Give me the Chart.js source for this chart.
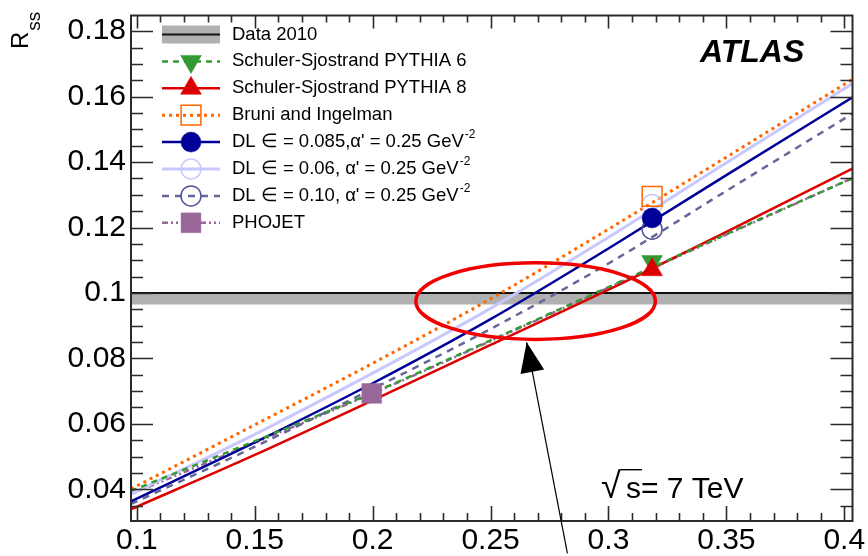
<!DOCTYPE html>
<html>
<head>
<meta charset="utf-8">
<title>Rss vs cut</title>
<script src="https://cdn.jsdelivr.net/npm/chart.js@4.4.1/dist/chart.umd.min.js"></script>
<style>
  html, body { margin: 0; padding: 0; background: #ffffff; }
  canvas { display: block; }
</style>
</head>
<body>
<canvas id="rss" width="868" height="556"></canvas>
<script>
// model curves, sampled along x (first/last points sit on the frame edges)
const xs       = [0.0975, 0.15, 0.2, 0.25, 0.3, 0.35, 0.4035];
const pythia6  = [0.0395, 0.0547, 0.0695, 0.0855, 0.1018, 0.1180, 0.1351];
const pythia8  = [0.0339, 0.0505, 0.0672, 0.0841, 0.1010, 0.1187, 0.1380];
const bruni    = [0.0401, 0.0597, 0.0785, 0.0982, 0.1195, 0.1415, 0.1653];
const dl085    = [0.0363, 0.0543, 0.0724, 0.0920, 0.1136, 0.1360, 0.1598];
const dl060    = [0.0385, 0.0568, 0.0755, 0.0953, 0.1170, 0.1398, 0.1640];
const dl100    = [0.0355, 0.0530, 0.0707, 0.0890, 0.1090, 0.1312, 0.1548];
const phojet   = [0.0385, 0.0542, 0.0693, 0.0853, 0.1016, 0.1178, 0.1351];

// single point predictions, same order as the curves
const markerX = [0.3185, 0.3185, 0.3185, 0.3185, 0.3185, 0.3185, 0.1996];
const markerY = [0.1096, 0.1071, 0.1295, 0.1229, 0.1270, 0.1195, 0.0693];

// measurement and its band
const dataValue = 0.1;
const dataLow = 0.0965;

const xTicks = [0.1, 0.15, 0.2, 0.25, 0.3, 0.35, 0.4];
const yTicks = [0.04, 0.06, 0.08, 0.1, 0.12, 0.14, 0.16, 0.18];

const names = [
  'Data 2010',
  'Schuler-Sjostrand PYTHIA 6',
  'Schuler-Sjostrand PYTHIA 8',
  'Bruni and Ingelman',
  "DL \u2208 = 0.085,\u03b1' = 0.25 GeV^-2",
  "DL \u2208 = 0.06, \u03b1' = 0.25 GeV^-2",
  "DL \u2208 = 0.10, \u03b1' = 0.25 GeV^-2",
  'PHOJET'
];
const curves = [pythia6, pythia8, bruni, dl085, dl060, dl100, phojet];

const FONT = "'Liberation Sans', Arial, Helvetica, sans-serif";

// layer: lower numbers end up on top
const looks = [
  {color: '#339933', width: 2.5, dash: [6, 5], point: 'triangle', rot: 180, r: 12, fill: true, layer: 1},
  {color: '#dd0000', width: 2.5, dash: [], point: 'triangle', rot: 0, r: 12, fill: true, layer: 0},
  {color: '#ff6600', width: 3, dash: [3, 4], point: 'rect', rot: 0, r: 14, fill: false, layer: 1},
  {color: '#000099', width: 2.5, dash: [], point: 'circle', rot: 0, r: 10, fill: true, layer: 0},
  {color: '#c8c8ff', width: 3, dash: [], point: 'circle', rot: 0, r: 10, fill: false, layer: 1},
  {color: '#666699', width: 2.5, dash: [7, 6], point: 'circle', rot: 0, r: 10, fill: false, mcolor: '#555599', layer: 0},
  {color: '#996699', width: 2.5, dash: [6, 3, 2, 3, 2, 3], point: 'rect', rot: 0, r: 14, fill: true, layer: 0}
];

const datasets = [];
curves.forEach((c, i) => {
  const L = looks[i];
  datasets.push({
    data: [{x: markerX[i], y: markerY[i]}],
    order: L.layer,
    showLine: false,
    pointStyle: L.point,
    rotation: L.rot,
    pointRadius: L.r,
    pointBackgroundColor: L.fill ? L.color : 'rgba(0,0,0,0)',
    pointBorderColor: L.mcolor || L.color,
    pointBorderWidth: L.fill ? 0.5 : 1.5
  });
});
curves.forEach((c, i) => {
  const L = looks[i];
  datasets.push({
    data: xs.map((x, j) => ({x: x, y: c[j]})),
    order: 2,
    showLine: true,
    borderColor: L.color,
    borderWidth: L.width,
    borderDash: L.dash,
    pointRadius: 0,
    cubicInterpolationMode: 'monotone',
    fill: false
  });
});
// Data 2010: line with grey band underneath
datasets.push({
  data: [{x: xs[0], y: dataValue}, {x: xs[xs.length - 1], y: dataValue}],
  order: 3,
  showLine: true,
  borderColor: '#111111',
  borderWidth: 2,
  pointRadius: 0,
  backgroundColor: '#b0b0b0',
  fill: {value: dataLow}
});

function fmt(v) { return String(+v.toFixed(2)); }

function drawLegend(ctx) {
  const x0 = 162, x1 = 220, xm = 191, xt = 232;
  ctx.textBaseline = 'middle';
  ctx.textAlign = 'left';
  names.forEach((name, i) => {
    const yy = 34.5 + i * 26.9;
    if (i === 0) {
      ctx.fillStyle = '#b0b0b0';
      ctx.fillRect(x0, yy - 9, x1 - x0, 18);
      ctx.strokeStyle = '#111';
      ctx.lineWidth = 2;
      ctx.setLineDash([]);
      ctx.beginPath(); ctx.moveTo(x0, yy); ctx.lineTo(x1, yy); ctx.stroke();
    } else {
      const L = looks[i - 1];
      ctx.strokeStyle = L.color;
      ctx.lineWidth = L.width;
      ctx.setLineDash(L.dash);
      ctx.beginPath(); ctx.moveTo(x0, yy); ctx.lineTo(x1, yy); ctx.stroke();
      ctx.setLineDash([]);
      ctx.fillStyle = L.fill ? L.color : 'rgba(0,0,0,0)';
      ctx.strokeStyle = L.mcolor || L.color;
      ctx.lineWidth = L.fill ? 0.5 : 1.5;
      Chart.helpers.drawPoint(ctx, {pointStyle: L.point, rotation: L.rot, radius: L.r, borderWidth: ctx.lineWidth}, xm, yy);
    }
    const parts = name.split('^');
    ctx.fillStyle = '#000';
    ctx.font = '18.5px ' + FONT;
    ctx.fillText(parts[0], xt, yy);
    if (parts[1]) {
      const w = ctx.measureText(parts[0]).width;
      ctx.font = '12px ' + FONT;
      ctx.fillText(parts[1], xt + w + 1, yy - 7);
    }
  });
}

const decor = {
  id: 'decor',
  afterDatasetsDraw(chart) {
    const {ctx, chartArea: a, scales: {x, y}} = chart;
    ctx.save();
    ctx.strokeStyle = '#2a2a2a';
    ctx.lineWidth = 2;
    ctx.setLineDash([]);
    ctx.strokeRect(a.left, a.top, a.right - a.left, a.bottom - a.top);
    ctx.lineWidth = 1.6;
    ctx.beginPath();
    // x ticks every 0.01, major every 0.05
    for (let i = 0; i <= 30; i++) {
      const px = Math.round(x.getPixelForValue(xTicks[0] + i * 0.01)) + 0.5;
      const major = i % 5 === 0;
      ctx.moveTo(px, a.bottom); ctx.lineTo(px, a.bottom - (major ? 15 : 8));
      ctx.moveTo(px, a.top); ctx.lineTo(px, a.top + (major ? 13 : 7));
    }
    // y ticks every 0.005, major every 0.02
    for (let i = -1; i <= 28; i++) {
      const v = yTicks[0] + i * 0.005;
      if (v > y.max) break;
      const py = Math.round(y.getPixelForValue(v)) + 0.5;
      const major = i % 4 === 0;
      ctx.moveTo(a.left, py); ctx.lineTo(a.left + (major ? 22 : 12), py);
      ctx.moveTo(a.right, py); ctx.lineTo(a.right - (major ? 22 : 12), py);
    }
    ctx.stroke();
    ctx.restore();
  },
  afterDraw(chart) {
    const {ctx, scales: {x, y}} = chart;
    ctx.save();

    // highlighted crossing region
    const cx = x.getPixelForValue(0.2691), cy = y.getPixelForValue(0.0975);
    const rx = x.getPixelForValue(0.2691 + 0.0508) - cx;
    const ry = cy - y.getPixelForValue(0.0975 + 0.0117);
    ctx.strokeStyle = '#f00000';
    ctx.lineWidth = 3.5;
    ctx.beginPath();
    ctx.ellipse(cx, cy, rx, ry, 0, 0, Math.PI * 2);
    ctx.stroke();

    // pointer arrow
    const tx = x.getPixelForValue(0.2653), ty = y.getPixelForValue(0.0849);
    const sx = x.getPixelForValue(0.2826), sy = y.getPixelForValue(0.0204);
    const ang = Math.atan2(ty - sy, tx - sx);
    ctx.strokeStyle = '#000';
    ctx.lineWidth = 1.2;
    ctx.beginPath(); ctx.moveTo(sx, sy); ctx.lineTo(tx, ty); ctx.stroke();
    const len = 30, half = 12;
    const bx = tx - Math.cos(ang) * len, by = ty - Math.sin(ang) * len;
    ctx.fillStyle = '#000';
    ctx.beginPath();
    ctx.moveTo(tx, ty);
    ctx.lineTo(bx + Math.sin(ang) * half, by - Math.cos(ang) * half);
    ctx.lineTo(bx - Math.sin(ang) * half, by + Math.cos(ang) * half);
    ctx.closePath();
    ctx.fill();

    drawLegend(ctx);

    // labels
    ctx.fillStyle = '#000';
    ctx.textAlign = 'left';
    ctx.textBaseline = 'alphabetic';
    ctx.font = 'italic bold 32px ' + FONT;
    ctx.fillText('ATLAS', 700, 62);

    // sqrt(s) label: radical sized to span the whole line height
    ctx.font = '36px ' + FONT;
    const m = ctx.measureText('\u221a');
    const rootRight = 621, rootTop = 469;
    ctx.fillText('\u221a', rootRight - m.actualBoundingBoxRight, rootTop + m.actualBoundingBoxAscent);
    ctx.font = '30px ' + FONT;
    ctx.fillText('s= 7 TeV', 626, 498);
    ctx.strokeStyle = '#000';
    ctx.lineWidth = 1.4;
    ctx.beginPath(); ctx.moveTo(rootRight - 1, rootTop + 0.7); ctx.lineTo(642, rootTop + 0.7); ctx.stroke();

    // axis title R_ss, vertical
    ctx.translate(28, 49);
    ctx.rotate(-Math.PI / 2);
    ctx.font = '24px ' + FONT;
    ctx.fillText('R', 0, 0);
    const rw = ctx.measureText('R').width;
    ctx.font = '19px ' + FONT;
    ctx.fillText('ss', rw + 1, 12);
    ctx.restore();
  }
};

new Chart(document.getElementById('rss'), {
  type: 'scatter',
  data: {datasets: datasets},
  options: {
    responsive: false,
    animation: false,
    events: [],
    layout: {padding: {top: 8, right: 12, left: 0, bottom: 0}},
    plugins: {legend: {display: false}, tooltip: {enabled: false}},
    scales: {
      x: {
        type: 'linear',
        min: 0.0975,
        max: 0.4035,
        afterBuildTicks: s => { s.ticks = xTicks.map(v => ({value: v})); },
        afterFit: s => { s.height = 35; s.paddingLeft = 0; s.paddingRight = 0; },
        grid: {display: false, drawTicks: false},
        border: {display: false},
        ticks: {color: '#000', font: {family: FONT, size: 30}, padding: 2, maxRotation: 0, autoSkip: false, callback: fmt}
      },
      y: {
        type: 'linear',
        min: 0.0303,
        max: 0.1848,
        afterBuildTicks: s => { s.ticks = yTicks.map(v => ({value: v})); },
        afterFit: s => { s.width = 131; s.paddingTop = 0; s.paddingBottom = 0; },
        grid: {display: false, drawTicks: false},
        border: {display: false},
        ticks: {color: '#000', font: {family: FONT, size: 30}, padding: 5, autoSkip: false, callback: fmt}
      }
    }
  },
  plugins: [decor]
});
</script>
</body>
</html>
